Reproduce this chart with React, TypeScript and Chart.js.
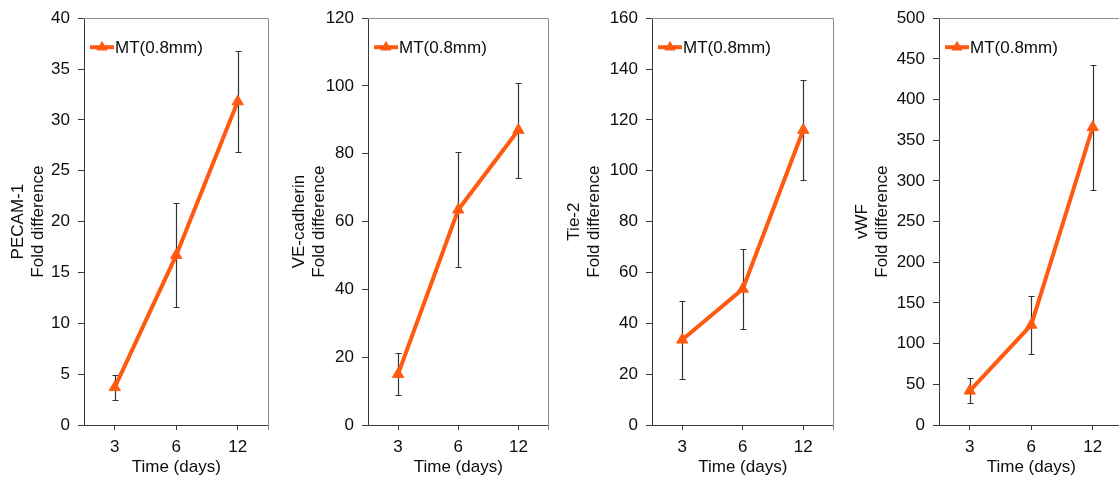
import { useEffect, useRef } from 'react';
import { Chart, registerables } from 'chart.js';

Chart.register(...registerables);

// ---- data ----
const categories = ['3', '6', '12'];
const xTitle = 'Time (days)';
const seriesLabel = 'MT(0.8mm)';

const pecamMean = [3.7, 16.7, 31.8];
const pecamErr = [1.2, 5.1, 5.0];

const veCadMean = [15, 63.5, 87];
const veCadErr = [6.2, 17, 14];

const tie2Mean = [33.5, 53.5, 116];
const tie2Err = [15.3, 15.6, 19.6];

const vwfMean = [42, 123, 366];
const vwfErr = [15.5, 36, 77];

const yTitles = [
  ['PECAM-1', 'Fold difference'],
  ['VE-cadherin', 'Fold difference'],
  ['Tie-2', 'Fold difference'],
  ['vWF', 'Fold difference'],
];
const yMax = [40, 120, 160, 500];
const yStep = [5, 20, 20, 50];

// ---- layout (pixels) ----
const canvasLeft = [0, 281, 556, 844];
const axisX = [84, 368, 652, 939];
const rightX = [270, 550, 835, 1125];

const FONT = '"Liberation Sans", Arial, Helvetica, sans-serif';
const ORANGE = '#FF5A10';
const TEXT = '#0d0d0d';
const AXIS = '#3a3a3a';
const BOX = '#8c8c8c';
const ERR = '#333333';
const H = 481;

function makePanel(canvas: HTMLCanvasElement, idx: number, means: number[], errs: number[]) {
  const width = rightX[idx] - canvasLeft[idx] + 6;
  const yWidth = axisX[idx] - canvasLeft[idx];

  const errorBars = {
    id: 'errorBars',
    beforeDatasetsDraw(chart: any) {
      const ctx = chart.ctx;
      const xs = chart.scales.x;
      const ys = chart.scales.y;
      ctx.save();
      ctx.strokeStyle = ERR;
      ctx.lineWidth = 1.2;
      means.forEach((m, i) => {
        const x = Math.round(xs.getPixelForValue(i)) + 0.5;
        const yt = Math.round(ys.getPixelForValue(m + errs[i])) + 0.5;
        const yb = Math.round(ys.getPixelForValue(m - errs[i])) + 0.5;
        ctx.beginPath();
        ctx.moveTo(x, yt);
        ctx.lineTo(x, yb);
        ctx.moveTo(x - 3, yt);
        ctx.lineTo(x + 3, yt);
        ctx.moveTo(x - 3, yb);
        ctx.lineTo(x + 3, yb);
        ctx.stroke();
      });
      ctx.restore();
    },
  };

  const boxAndLegend = {
    id: 'boxAndLegend',
    afterDraw(chart: any) {
      const ctx = chart.ctx;
      const a = chart.chartArea;
      ctx.save();
      ctx.strokeStyle = BOX;
      ctx.lineWidth = 1;
      const t = Math.round(a.top) + 0.5;
      const r = Math.round(a.right) - 0.5;
      ctx.beginPath();
      ctx.moveTo(a.left, t);
      ctx.lineTo(r, t);
      ctx.lineTo(r, a.bottom + 5);
      ctx.stroke();

      // legend
      const ly = a.top + 29;
      const lx = a.left + 6;
      ctx.strokeStyle = ORANGE;
      ctx.lineWidth = 4;
      ctx.beginPath();
      ctx.moveTo(lx, ly);
      ctx.lineTo(lx + 24, ly);
      ctx.stroke();
      const cx = lx + 12;
      const rr = 6.5;
      ctx.fillStyle = ORANGE;
      ctx.beginPath();
      ctx.moveTo(cx, ly - rr);
      ctx.lineTo(cx + rr * 0.866, ly + rr / 2);
      ctx.lineTo(cx - rr * 0.866, ly + rr / 2);
      ctx.closePath();
      ctx.fill();
      ctx.fillStyle = TEXT;
      ctx.font = `17px ${FONT}`;
      ctx.textBaseline = 'middle';
      ctx.textAlign = 'left';
      ctx.fillText(seriesLabel, a.left + 31, ly + 1);
      ctx.restore();
    },
  };

  return new Chart(canvas, {
    type: 'line',
    data: {
      labels: categories,
      datasets: [
        {
          label: seriesLabel,
          data: means,
          borderColor: ORANGE,
          backgroundColor: ORANGE,
          borderWidth: 4,
          tension: 0,
          pointStyle: 'triangle',
          pointRadius: 6.5,
          pointBorderWidth: 1,
          pointBackgroundColor: ORANGE,
          pointBorderColor: ORANGE,
        },
      ],
    },
    options: {
      responsive: false,
      animation: false,
      devicePixelRatio: 1,
      layout: { padding: { left: 0, right: width - (rightX[idx] - canvasLeft[idx]), top: 15, bottom: 0 } },
      plugins: {
        legend: { display: false },
        tooltip: { enabled: false },
      },
      scales: {
        x: {
          type: 'category',
          offset: true,
          grid: {
            offset: false,
            drawOnChartArea: false,
            drawTicks: true,
            tickLength: 5,
            color: AXIS,
          },
          border: { display: true, color: AXIS, width: 1 },
          ticks: {
            color: TEXT,
            font: { family: FONT, size: 17, lineHeight: 1.2 },
            padding: 7,
            maxRotation: 0,
          },
          title: {
            display: true,
            text: xTitle,
            color: TEXT,
            font: { family: FONT, size: 17, lineHeight: 1.2 },
            padding: { top: 0, bottom: 3 },
          },
          afterFit(s: any) {
            s.height = 56;
          },
        },
        y: {
          type: 'linear',
          min: 0,
          max: yMax[idx],
          grid: {
            drawOnChartArea: false,
            drawTicks: true,
            tickLength: 6,
            color: AXIS,
          },
          border: { display: true, color: AXIS, width: 1 },
          ticks: {
            stepSize: yStep[idx],
            color: TEXT,
            font: { family: FONT, size: 17, lineHeight: 1.2 },
            padding: 8,
          },
          title: {
            display: true,
            text: yTitles[idx],
            color: TEXT,
            font: { family: FONT, size: 17, lineHeight: 1.2 },
            padding: { top: 8, bottom: 0 },
          },
          afterFit(s: any) {
            s.width = yWidth;
          },
        },
      },
    },
    plugins: [errorBars, boxAndLegend],
  } as any);
}

function Panel({ idx, means, errs }: { idx: number; means: number[]; errs: number[] }) {
  const ref = useRef<HTMLCanvasElement | null>(null);
  const width = rightX[idx] - canvasLeft[idx] + 6;
  useEffect(() => {
    if (!ref.current) return;
    const chart = makePanel(ref.current, idx, means, errs);
    return () => chart.destroy();
  }, [idx, means, errs]);
  return (
    <canvas
      ref={ref}
      width={width}
      height={H}
      style={{ position: 'absolute', left: canvasLeft[idx], top: 0, width, height: H }}
    />
  );
}

export default function App() {
  return (
    <div
      style={{
        position: 'fixed',
        left: 0,
        top: 0,
        width: 1119,
        height: 481,
        overflow: 'hidden',
        background: '#ffffff',
      }}
    >
      <Panel idx={0} means={pecamMean} errs={pecamErr} />
      <Panel idx={1} means={veCadMean} errs={veCadErr} />
      <Panel idx={2} means={tie2Mean} errs={tie2Err} />
      <Panel idx={3} means={vwfMean} errs={vwfErr} />
    </div>
  );
}
